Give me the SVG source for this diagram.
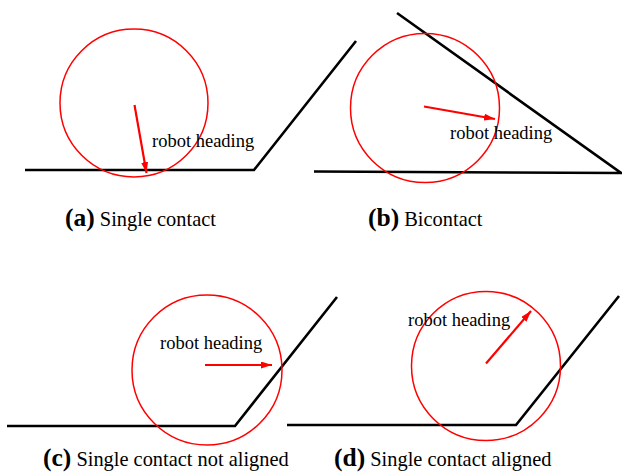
<svg xmlns="http://www.w3.org/2000/svg" width="622" height="474" viewBox="0 0 622 474">
<style>
.wall{fill:none;stroke:#000;stroke-width:2.6;stroke-linejoin:miter}
.robot{fill:none;stroke:#f00;stroke-width:1.5}
.head{fill:none;stroke:#f00;stroke-width:2.2;marker-end:url(#ah)}
.lbl{font-size:18.5px;fill:#000}
.cap{font-size:20.4px;fill:#000}
.capb{font-weight:bold;font-size:25.5px}
</style>
<defs>
<marker id="ah" markerUnits="userSpaceOnUse" markerWidth="12" markerHeight="7" refX="11" refY="3.5" orient="auto">
<path d="M0,0 L11,3.5 L0,7 z" fill="#f00"/>
</marker>
</defs>
<rect width="622" height="474" fill="#fff"/>
<g font-family="Liberation Serif, Times New Roman, serif">
<g id="panel-a">
<polyline class="wall" points="25,170 254,170 356,41"/>
<circle class="robot" cx="134" cy="103" r="74"/>
<text class="lbl" x="152" y="147">robot heading</text>
<text class="cap" x="65" y="226"><tspan class="capb">(a)</tspan> Single contact</text>
</g>
<g id="panel-b">
<polyline class="wall" points="314,171.5 621,173 397,13"/>
<circle class="robot" cx="425" cy="108" r="74.5"/>
<text class="lbl" x="450" y="139">robot heading</text>
<text class="cap" x="368" y="226"><tspan class="capb">(b)</tspan> Bicontact</text>
</g>
<g id="panel-c">
<polyline class="wall" points="7,426 235,426 337,297"/>
<circle class="robot" cx="207" cy="370" r="75"/>
<text class="lbl" x="160" y="349">robot heading</text>
<text class="cap" x="43" y="466"><tspan class="capb">(c)</tspan> Single contact not aligned</text>
</g>
<g id="panel-d">
<polyline class="wall" points="287,425 516,425 619,296"/>
<circle class="robot" cx="486" cy="366" r="74.5"/>
<text class="lbl" x="408" y="326">robot heading</text>
<text class="cap" x="334" y="466"><tspan class="capb">(d)</tspan> Single contact aligned</text>
</g>
</g>
<g id="connectors">
<line class="head" x1="134.5" y1="105" x2="146.5" y2="173"/>
<line class="head" x1="424" y1="106.5" x2="495" y2="119"/>
<line class="head" x1="205" y1="365" x2="272" y2="365"/>
<line class="head" x1="486" y1="363.5" x2="531" y2="311"/>
</g>
</svg>
